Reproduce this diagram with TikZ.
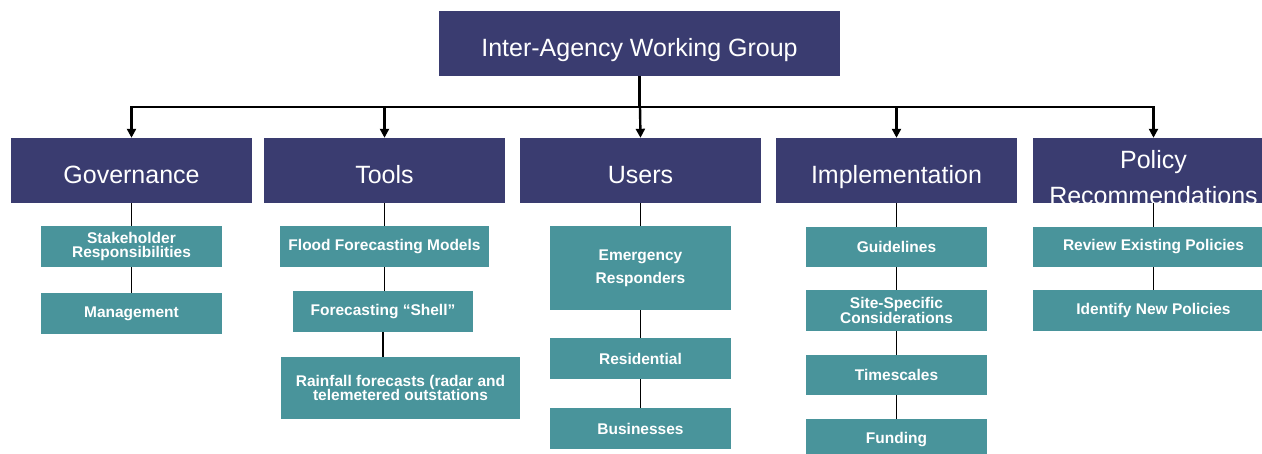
\documentclass[tikz,border=0pt]{standalone}
\usepackage{fontspec}
\setmainfont{Liberation Sans}
\usetikzlibrary{arrows.meta}
\definecolor{navybox}{RGB}{58,60,112}
\definecolor{tealbox}{RGB}{73,148,155}
\begin{document}
\begin{tikzpicture}[x=1pt,y=1pt,
  headbox/.style={fill=navybox, text=white, inner sep=0pt, text height=32pt, text depth=5pt, font=\fontsize{25}{30}\selectfont},
  subbox/.style={fill=tealbox, text=white, inner sep=0pt, align=center, font=\bfseries\fontsize{15.5}{14.5}\selectfont},
  trunk/.style={line width=2.4pt},
  twig/.style={line width=1.2pt}]
\useasboundingbox (0,0) rectangle (1262,454);
%centre of the boxes
\coordinate (T) at (639.5,410.5);
\coordinate (B) at (640,347); %height of the bus line
\coordinate (G) at (131.5,283.5);
\coordinate (O) at (384.5,283.5);
\coordinate (U) at (640.5,283.5);
\coordinate (I) at (896.5,283.5);
\coordinate (P) at (1153.5,283.5);
%top box and first row
\node[headbox, minimum width=401pt, minimum height=65pt] (top) at (T) {Inter-Agency Working Group};
\node[headbox, minimum width=241pt, minimum height=65pt] (gov) at (G) {Governance};
\node[headbox, minimum width=241pt, minimum height=65pt] (tools) at (O) {Tools};
\node[headbox, minimum width=241pt, minimum height=65pt] (users) at (U) {Users};
\node[headbox, minimum width=241pt, minimum height=65pt] (impl) at (I) {Implementation};
\node[headbox, minimum width=241pt, minimum height=65pt] (policy) at (P) {};
\node[text=white, inner sep=0pt, anchor=north, align=center, font=\fontsize{25}{36}\selectfont] (policytxt) at (1153.5,303.5) {Policy\\Recommendations};
%governance
\node[subbox, minimum width=181pt, minimum height=41pt] (stake) at (131.5,207.5) {Stakeholder\\Responsibilities};
\node[subbox, minimum width=181pt, minimum height=41pt] (manag) at (131.5,140.5) {Management};
%tools
\node[subbox, minimum width=209pt, minimum height=41pt] (flood) at (384.5,207.5) {Flood Forecasting Models};
\node[subbox, minimum width=180pt, minimum height=41pt] (shell) at (383,142.5) {Forecasting “Shell”};
\node[subbox, minimum width=239pt, minimum height=62pt] (rain) at (400.5,66) {Rainfall forecasts (radar and\\telemetered outstations};
%users
\node[subbox, minimum width=181pt, minimum height=84pt, font=\bfseries\fontsize{15.5}{23}\selectfont] (emerg) at (640.5,186) {Emergency\\Responders};
\node[subbox, minimum width=181pt, minimum height=41pt] (resid) at (640.5,95.5) {Residential};
\node[subbox, minimum width=181pt, minimum height=41pt] (busin) at (640.5,25.5) {Businesses};
%implementation
\node[subbox, minimum width=181pt, minimum height=40pt] (guide) at (896.5,207) {Guidelines};
\node[subbox, minimum width=181pt, minimum height=41pt] (site) at (896.5,143.5) {Site-Specific\\Considerations};
\node[subbox, minimum width=181pt, minimum height=40pt] (times) at (896.5,79) {Timescales};
\node[subbox, minimum width=181pt, minimum height=41pt] (fund) at (896.5,14.5) {Funding};
%policy
\node[subbox, minimum width=241pt, minimum height=40pt] (review) at (1153.5,207) {Review Existing Policies};
\node[subbox, minimum width=241pt, minimum height=41pt] (ident) at (1153.5,143.5) {Identify New Policies};
%tree arrows
\draw[trunk] (top.south) -- (top.south |- B);
\draw[trunk, -{Triangle[width=9pt,length=9pt]}] (B) -| (gov.north);
\draw[trunk, -{Triangle[width=9pt,length=9pt]}] (B) -| (tools.north);
\draw[trunk, -{Triangle[width=9pt,length=9pt]}] (B) -- (users.north);
\draw[trunk, -{Triangle[width=9pt,length=9pt]}] (B) -| (impl.north);
\draw[trunk, -{Triangle[width=9pt,length=9pt]}] (B) -| (policy.north);
%columns
\draw[twig] (gov.south) -- (stake.north);
\draw[twig] (stake.south) -- (manag.north);
\draw[twig] (tools.south) -- (flood.north);
\draw[twig] (flood.south) -- (flood.south |- shell.north);
\draw[twig] (shell.south) -- (shell.south |- rain.north);
\draw[twig] (users.south) -- (emerg.north);
\draw[twig] (emerg.south) -- (resid.north);
\draw[twig] (resid.south) -- (busin.north);
\draw[twig] (impl.south) -- (guide.north);
\draw[twig] (guide.south) -- (site.north);
\draw[twig] (site.south) -- (times.north);
\draw[twig] (times.south) -- (fund.north);
\draw[twig] (policy.south) -- (review.north);
\draw[twig] (review.south) -- (ident.north);
\end{tikzpicture}
\end{document}
